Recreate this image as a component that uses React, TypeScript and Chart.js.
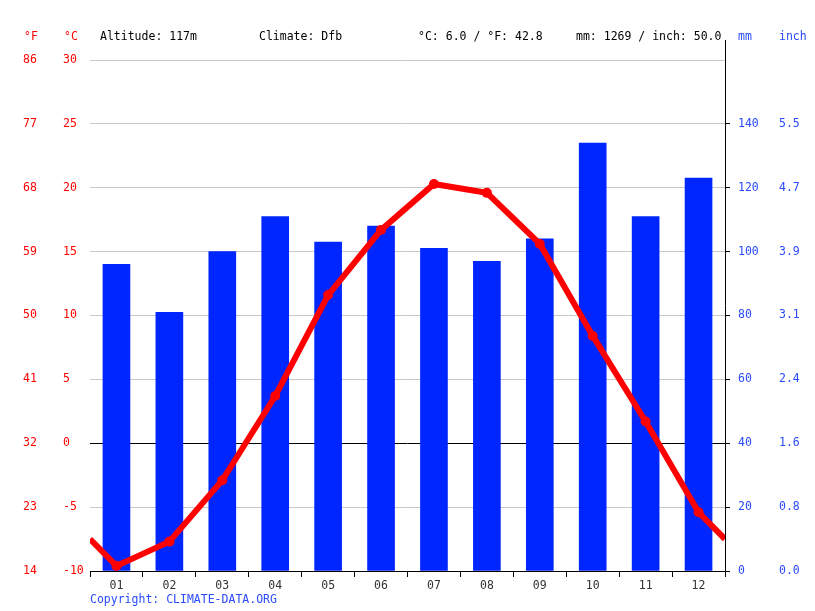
import React, { useEffect, useRef } from "react";
import { Chart, registerables } from "chart.js";

Chart.register(...registerables);

const months = ["01", "02", "03", "04", "05", "06", "07", "08", "09", "10", "11", "12"];
const precipMm = [96, 81, 100, 111, 103, 108, 101, 97, 104, 134, 111, 123];
const tempC = [-9.6, -7.7, -2.9, 3.7, 11.6, 16.7, 20.3, 19.6, 15.6, 8.4, 1.7, -5.4];
const altitude = "117m";
const climate = "Dfb";

const RED = "#ff0000";
const BLUE = "#2a4bff";
const BAR = "#0026ff";
const FONT = "'DejaVu Sans Mono', monospace";

export default function App() {
  const ref = useRef<HTMLCanvasElement | null>(null);

  const avgC = tempC.reduce((a, b) => a + b, 0) / tempC.length;
  const avgF = avgC * 1.8 + 32;
  const sumMm = precipMm.reduce((a, b) => a + b, 0);
  const sumIn = sumMm / 25.4;

  useEffect(() => {
    if (!ref.current) return;
    const wrap = (tempC[0] + tempC[tempC.length - 1]) / 2;
    const lineData = [
      { x: 0.5, y: wrap },
      ...tempC.map((t, i) => ({ x: i + 1, y: t })),
      { x: tempC.length + 0.5, y: wrap },
    ];

    const rightLine = {
      id: "rightLine",
      afterDatasetsDraw(chart: any) {
        const { ctx, chartArea } = chart;
        ctx.save();
        ctx.strokeStyle = "#000";
        ctx.lineWidth = 1;
        ctx.beginPath();
        const x = Math.round(chartArea.right) + 0.5;
        ctx.moveTo(x, 40);
        ctx.lineTo(x, chartArea.bottom);
        ctx.stroke();
        ctx.restore();
      },
    };

    const chart = new Chart(ref.current, {
      type: "bar",
      data: {
        labels: months,
        datasets: [
          {
            type: "bar",
            data: precipMm,
            xAxisID: "x",
            yAxisID: "mm",
            backgroundColor: BAR,
            barThickness: 27,
            grouped: false,
            order: 1,
          },
          {
            type: "line",
            data: lineData as any,
            xAxisID: "x2",
            yAxisID: "y",
            borderColor: RED,
            backgroundColor: RED,
            borderWidth: 6,
            pointRadius: (c: any) => (c.dataIndex === 0 || c.dataIndex === lineData.length - 1 ? 0 : 5),
            pointBackgroundColor: RED,
            pointBorderWidth: 0,
            tension: 0,
            order: 0,
          } as any,
        ],
      },
      options: {
        animation: false,
        responsive: false,
        devicePixelRatio: 1,
        layout: { padding: { top: 60, bottom: 10, left: 23, right: 0 } },
        plugins: { legend: { display: false }, tooltip: { enabled: false } },
        scales: {
          x: {
            type: "category",
            position: "bottom",
            offset: true,
            grid: { offset: true, drawOnChartArea: false, tickLength: 6, color: "#000" },
            border: { display: true, color: "#000" },
            ticks: { color: "#333", font: { family: FONT, size: 11.5 }, padding: 2 },
            afterFit: (s: any) => { s.height = 30; },
          },
          x2: {
            type: "linear",
            display: false,
            offset: false,
            min: 0.5,
            max: 12.5,
          },
          y: {
            type: "linear",
            position: "left",
            weight: 0,
            min: -10,
            max: 30,
            ticks: { stepSize: 5, color: RED, font: { family: FONT, size: 11.5 }, crossAlign: "far", padding: 0 },
            grid: {
              drawTicks: false,
              color: (c: any) => (c.tick && (c.tick.value === 0 || c.tick.value === -10) ? "#000" : "#c8c8c8"),
            },
            border: { display: false },
            afterFit: (s: any) => { s.width = 27; },
          },
          f: {
            type: "linear",
            position: "left",
            weight: 1,
            min: 14,
            max: 86,
            ticks: { stepSize: 9, color: RED, font: { family: FONT, size: 11.5 }, crossAlign: "far", padding: 0 },
            grid: { display: false, drawTicks: false },
            border: { display: false },
            afterFit: (s: any) => { s.width = 40; },
          },
          mm: {
            type: "linear",
            position: "right",
            weight: 0,
            min: 0,
            max: 160,
            ticks: {
              stepSize: 20,
              color: BLUE,
              font: { family: FONT, size: 11.5 },
              padding: 8,
              callback: (v: any) => (v >= 160 ? "" : String(v)),
            },
            grid: {
              drawOnChartArea: false,
              tickLength: 5,
              tickColor: (c: any) => (c.tick && c.tick.value >= 160 ? "rgba(0,0,0,0)" : "#000"),
            },
            border: { display: false },
            afterFit: (s: any) => { s.width = 45; },
          },
          inch: {
            type: "linear",
            position: "right",
            weight: 1,
            min: 0,
            max: 160,
            ticks: {
              stepSize: 20,
              color: BLUE,
              font: { family: FONT, size: 11.5 },
              padding: 9,
              callback: (v: any) => (v >= 160 ? "" : (v / 25.4).toFixed(1)),
            },
            grid: { display: false, drawTicks: false },
            border: { display: false },
            afterFit: (s: any) => { s.width = 45; },
          },
        },
      },
      plugins: [rightLine],
    });
    return () => chart.destroy();
  }, []);

  const txt = (left: number, color: string, top = 29): React.CSSProperties => ({
    position: "absolute",
    left,
    top,
    color,
    fontFamily: FONT,
    fontSize: "11.5px",
    lineHeight: "14px",
    whiteSpace: "pre",
  });

  return (
    <div style={{ position: "absolute", left: 0, top: 0, width: 815, height: 611, background: "#fff" }}>
      <canvas ref={ref} width={815} height={611} style={{ position: "absolute", left: 0, top: 0, width: 815, height: 611 }} />
      <div style={txt(24, RED)}>°F</div>
      <div style={txt(64, RED)}>°C</div>
      <div style={txt(100, "#000")}>Altitude: {altitude}</div>
      <div style={txt(259, "#000")}>Climate: {climate}</div>
      <div style={txt(418, "#000")}>°C: {avgC.toFixed(1)} / °F: {avgF.toFixed(1)}</div>
      <div style={txt(576, "#000")}>mm: {sumMm} / inch: {sumIn.toFixed(1)}</div>
      <div style={txt(738, BLUE)}>mm</div>
      <div style={txt(779, BLUE)}>inch</div>
      <div style={txt(90, BLUE, 592)}>Copyright: CLIMATE-DATA.ORG</div>
    </div>
  );
}
